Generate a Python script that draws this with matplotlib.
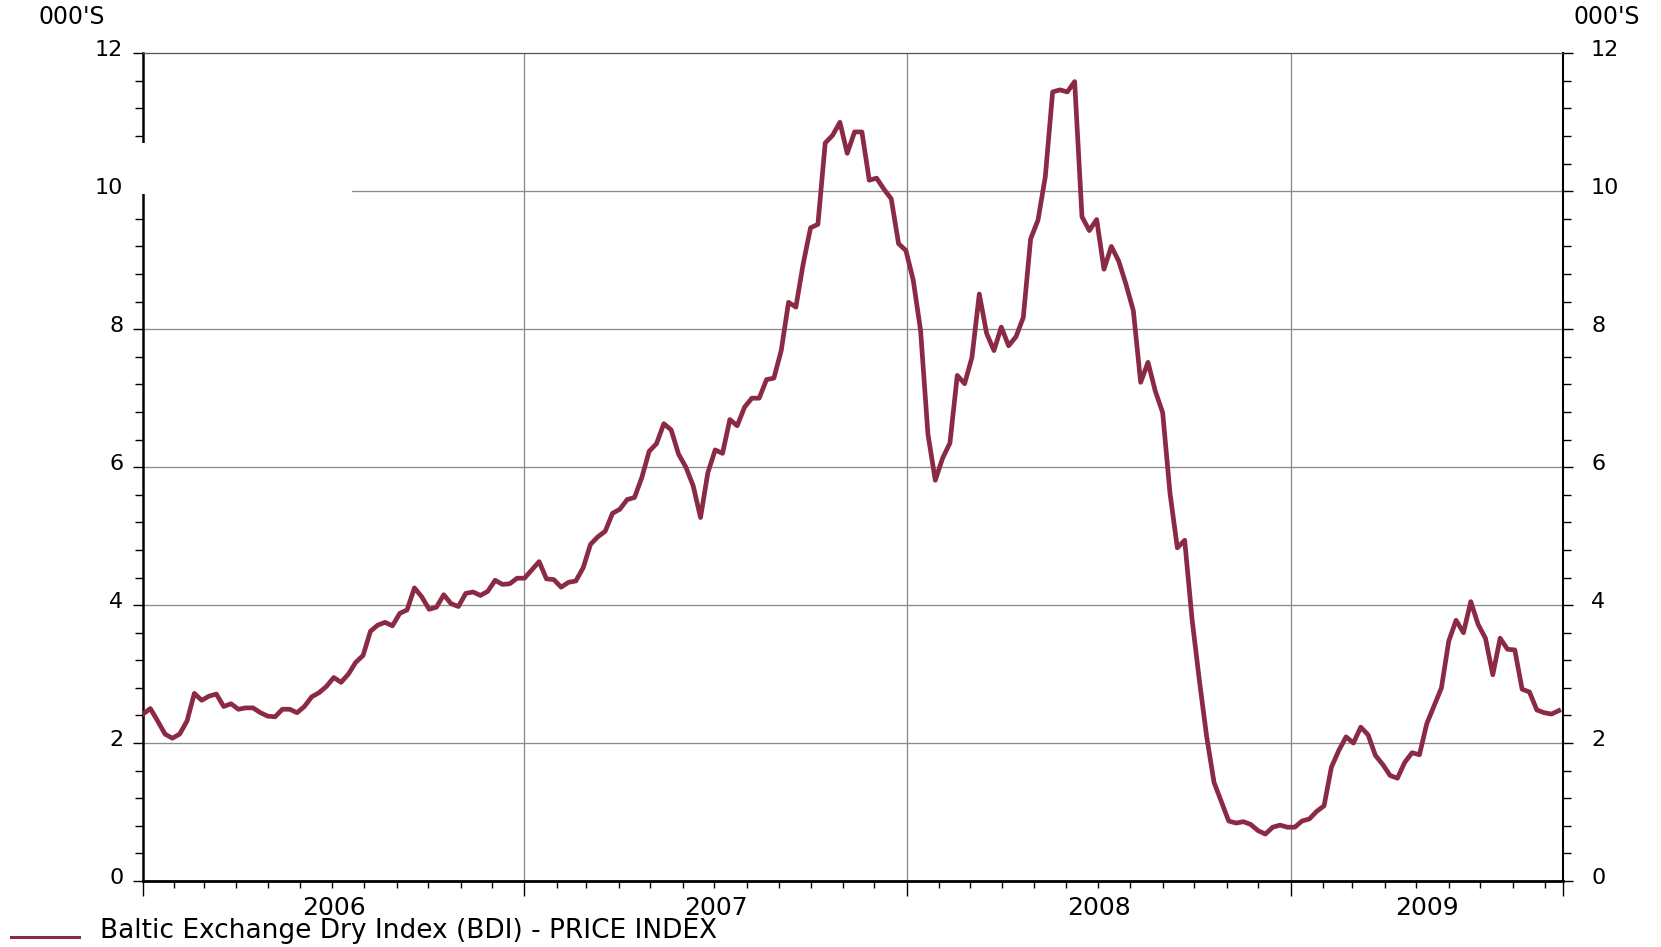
import numpy as np
import pandas as pd
import matplotlib
matplotlib.use('Agg')
import matplotlib.pyplot as plt
import matplotlib.dates as mdates
import matplotlib.transforms as mtransforms
from matplotlib.patches import Rectangle
from matplotlib.lines import Line2D
from matplotlib.ticker import FixedLocator, NullFormatter

plt.rcParams['font.family'] = ['DejaVu Sans']

# weekly BDI, in thousands
start_date = '2006-01-02'
x_start = '2006-01-02'
x_end = '2009-09-18'
years = [2006, 2007, 2008, 2009]
series_label = 'Baltic Exchange Dry Index (BDI) - PRICE INDEX'
units = "000'S"

bdi_2006 = [2.42, 2.50, 2.32, 2.13, 2.07, 2.13, 2.32, 2.72, 2.62, 2.68,
            2.71, 2.53, 2.57, 2.49, 2.51, 2.51, 2.44, 2.39, 2.38, 2.49,
            2.49, 2.44, 2.53, 2.67, 2.73, 2.82, 2.95, 2.88, 3.00, 3.17,
            3.27, 3.62, 3.71, 3.75, 3.70, 3.88, 3.93, 4.25, 4.12, 3.94,
            3.97, 4.15, 4.02, 3.98, 4.17, 4.19, 4.14, 4.20, 4.36, 4.30,
            4.31, 4.39]
bdi_2007 = [4.39, 4.51, 4.63, 4.38, 4.37, 4.26, 4.33, 4.35, 4.54, 4.88,
            4.99, 5.07, 5.33, 5.39, 5.53, 5.56, 5.85, 6.23, 6.34, 6.63,
            6.54, 6.19, 6.00, 5.73, 5.27, 5.92, 6.25, 6.20, 6.69, 6.60,
            6.87, 7.00, 7.00, 7.27, 7.29, 7.69, 8.39, 8.32, 8.95, 9.47,
            9.52, 10.70, 10.81, 11.00, 10.55, 10.86, 10.86, 10.16, 10.19, 10.03,
            9.89, 9.24]
bdi_2008 = [9.14, 8.71, 7.98, 6.48, 5.81, 6.13, 6.35, 7.33, 7.21, 7.59,
            8.51, 7.94, 7.69, 8.03, 7.76, 7.89, 8.17, 9.31, 9.58, 10.21,
            11.44, 11.47, 11.44, 11.59, 9.63, 9.43, 9.59, 8.87, 9.20, 8.99,
            8.65, 8.27, 7.23, 7.52, 7.10, 6.79, 5.62, 4.83, 4.94, 3.80,
            2.91, 2.09, 1.43, 1.15, 0.87, 0.84, 0.86, 0.82, 0.73, 0.68,
            0.78, 0.81]
bdi_2009 = [0.78, 0.78, 0.87, 0.90, 1.01, 1.09, 1.65, 1.89, 2.09, 2.00,
            2.23, 2.12, 1.82, 1.69, 1.53, 1.49, 1.72, 1.86, 1.83, 2.28,
            2.54, 2.80, 3.48, 3.78, 3.60, 4.05, 3.72, 3.52, 2.99, 3.52,
            3.36, 3.35, 2.78, 2.74, 2.48, 2.44, 2.42, 2.47]

values = bdi_2006 + bdi_2007 + bdi_2008 + bdi_2009
dates = pd.date_range(start_date, periods=len(values), freq='7D')

line_color = '#8B2A44'
grid_color = '#8c8c8c'
W, H = 1661, 947

fig = plt.figure(figsize=(W / 100, H / 100), dpi=100)
ax = fig.add_axes([143 / W, 1 - 881 / H, (1563 - 143) / W, (881 - 53.3) / H])

x0, x1 = pd.Timestamp(x_start), pd.Timestamp(x_end)
ax.set_xlim(x0, x1)
ax.set_ylim(0, 12)

ax.plot(dates, values, color=line_color, lw=3.4, zorder=3)

# grid
for v in range(2, 12, 2):
    ax.axhline(v, color=grid_color, lw=0.95, zorder=1)
for yr in years[1:]:
    ax.axvline(pd.Timestamp(f'{yr}-01-01'), color=grid_color, lw=0.95, zorder=1)

# spines
ax.spines['left'].set_linewidth(1.8)
ax.spines['bottom'].set_linewidth(2.0)
ax.spines['right'].set_linewidth(1.5)
ax.spines['top'].set_linewidth(0.9)
ax.spines['top'].set_color('#555555')

# y ticks both sides
yticks = list(range(0, 13, 2))
yminor = np.arange(0, 12.01, 0.4)
ax.set_yticks(yticks)
ax.set_yticks(yminor, minor=True)
ax.tick_params(axis='y', which='major', direction='out', length=7.2, width=1.0,
               labelsize=16, pad=7)
ax.tick_params(axis='y', which='minor', direction='out', length=5.8, width=1.0)

ax2 = ax.twinx()
ax2.set_ylim(0, 12)
ax2.set_yticks(yticks)
ax2.set_yticks(yminor, minor=True)
for s in ax2.spines.values():
    s.set_visible(False)
ax2.tick_params(axis='y', which='major', direction='out', length=7.2, width=1.0,
                labelsize=16, pad=13)
ax2.tick_params(axis='y', which='minor', direction='out', length=5.8, width=1.0)

# x ticks: years + months
major_locs = [mdates.date2num(x0)] + \
    [mdates.date2num(pd.Timestamp(f'{yr}-01-01')) for yr in years[1:]] + \
    [mdates.date2num(x1)]
ax.xaxis.set_major_locator(FixedLocator(major_locs))
ax.xaxis.set_minor_locator(mdates.MonthLocator())
ax.xaxis.set_major_formatter(NullFormatter())
ax.xaxis.set_minor_formatter(NullFormatter())
ax.tick_params(axis='x', which='major', direction='out', length=10.8, width=1.0)
ax.tick_params(axis='x', which='minor', direction='out', length=5.0, width=1.0)

# year labels centred on visible part of each year
for yr in years:
    a = max(pd.Timestamp(f'{yr}-01-01'), x0)
    b = min(pd.Timestamp(f'{yr + 1}-01-01'), x1)
    mid = a + (b - a) / 2
    ax.text(mid, -0.0326, str(yr), transform=ax.get_xaxis_transform(),
            ha='center', va='center', fontsize=18)

# units
fig.text(72 / W, 1 - 17 / H, units, ha='center', va='center', fontsize=17)
fig.text(1607 / W, 1 - 17 / H, units, ha='center', va='center', fontsize=17)

# blank patch over the left axis near 10
fig.add_artist(Rectangle((128 / W, 1 - 194 / H), (352 - 128) / W, 51 / H,
                         transform=fig.transFigure, facecolor='white',
                         edgecolor='none', zorder=5))

# legend
fig.add_artist(Line2D([11 / W, 79 / W], [1 - 937 / H, 1 - 937 / H],
                      color=line_color, lw=2.2))
fig.text(100 / W, 1 - 931 / H, series_label, ha='left', va='center', fontsize=19)

# lift tick labels slightly above their ticks
offset = mtransforms.ScaledTranslation(0, 0.05, fig.dpi_scale_trans)
for axis in (ax, ax2):
    for lbl in axis.get_yticklabels():
        lbl.set_transform(lbl.get_transform() + offset)

fig.savefig('out.png', dpi=100)
